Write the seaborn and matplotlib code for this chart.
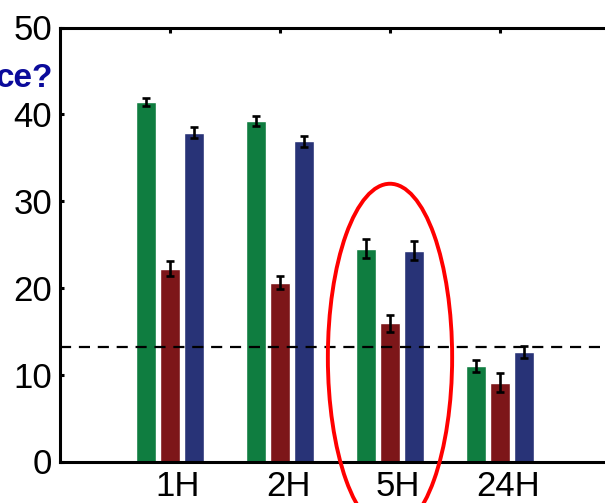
import pandas as pd
import seaborn as sns
import matplotlib.pyplot as plt
import matplotlib.transforms as mtransforms
from matplotlib.patches import Ellipse

sns.set_style("ticks")
plt.rcParams['font.family'] = ['Liberation Sans', 'DejaVu Sans']

times = ["1H", "2H", "5H", "24H"]
groups = ["Group 1", "Group 2", "Group 3"]
colors = ["#0F7D40", "#7D1619", "#283377"]

values_g1 = [41.4, 39.2, 24.5, 11.0]
values_g2 = [22.2, 20.6, 15.9, 9.1]
values_g3 = [37.9, 36.9, 24.3, 12.6]
errors_g1 = [0.5, 0.6, 1.1, 0.65]
errors_g2 = [0.85, 0.75, 1.0, 1.1]
errors_g3 = [0.6, 0.65, 1.1, 0.7]
threshold = 13.2

values = [values_g1, values_g2, values_g3]
errors = [errors_g1, errors_g2, errors_g3]

df = pd.DataFrame({
    "time": times * 3,
    "group": [g for g in groups for _ in times],
    "value": values_g1 + values_g2 + values_g3,
})

fig = plt.figure(figsize=(6.05, 5.03), dpi=100)
ax = fig.add_axes([60 / 605, 41.5 / 503, 1.0, 434 / 503])

sns.barplot(data=df, x="time", y="value", hue="group", order=times, hue_order=groups,
            palette=colors, width=0.654, gap=0.17, errorbar=None, legend=False,
            saturation=1, ax=ax)

# error bars on top of each bar
for container, errs in zip(ax.containers, errors):
    for bar, err in zip(container, errs):
        ax.errorbar(bar.get_x() + bar.get_width() / 2, bar.get_height(), yerr=err,
                    fmt="none", ecolor="black", elinewidth=1.9, capsize=2.7,
                    capthick=1.9, zorder=4)

ax.axhline(threshold, color="black", ls=(0, (5, 3.5)), lw=1.6, zorder=5, clip_on=False)

ax.add_patch(Ellipse((2.0, 12.0), 1.13, 40.0, fill=False, edgecolor="red",
                     lw=2.8, zorder=6, clip_on=False))

ax.set_xlim(-1.0, 4.5)
ax.set_ylim(0, 50)
ax.set_yticks([0, 10, 20, 30, 40, 50])
ax.set_xlabel("")
ax.set_ylabel("")

for side in ["left", "top", "bottom"]:
    ax.spines[side].set_linewidth(2.2)
    ax.spines[side].set_color("black")
ax.spines["right"].set_visible(False)

ax.tick_params(axis="y", direction="in", length=3, width=2.2, labelsize=25, pad=5.5,
               colors="black")
ax.tick_params(axis="x", direction="in", length=3.5, width=2.2, labelsize=25, pad=6,
               top=True, bottom=False, colors="black")

offset = mtransforms.ScaledTranslation(8 / 100, 0, fig.dpi_scale_trans)
for lab in ax.get_xticklabels():
    lab.set_transform(lab.get_transform() + offset)

fig.text(53 / 605, 1 - 87 / 503, "ce?", ha="right", va="baseline",
         fontsize=24, fontweight="bold", color="#0B0B9B")

fig.savefig("out.png", dpi=100)
